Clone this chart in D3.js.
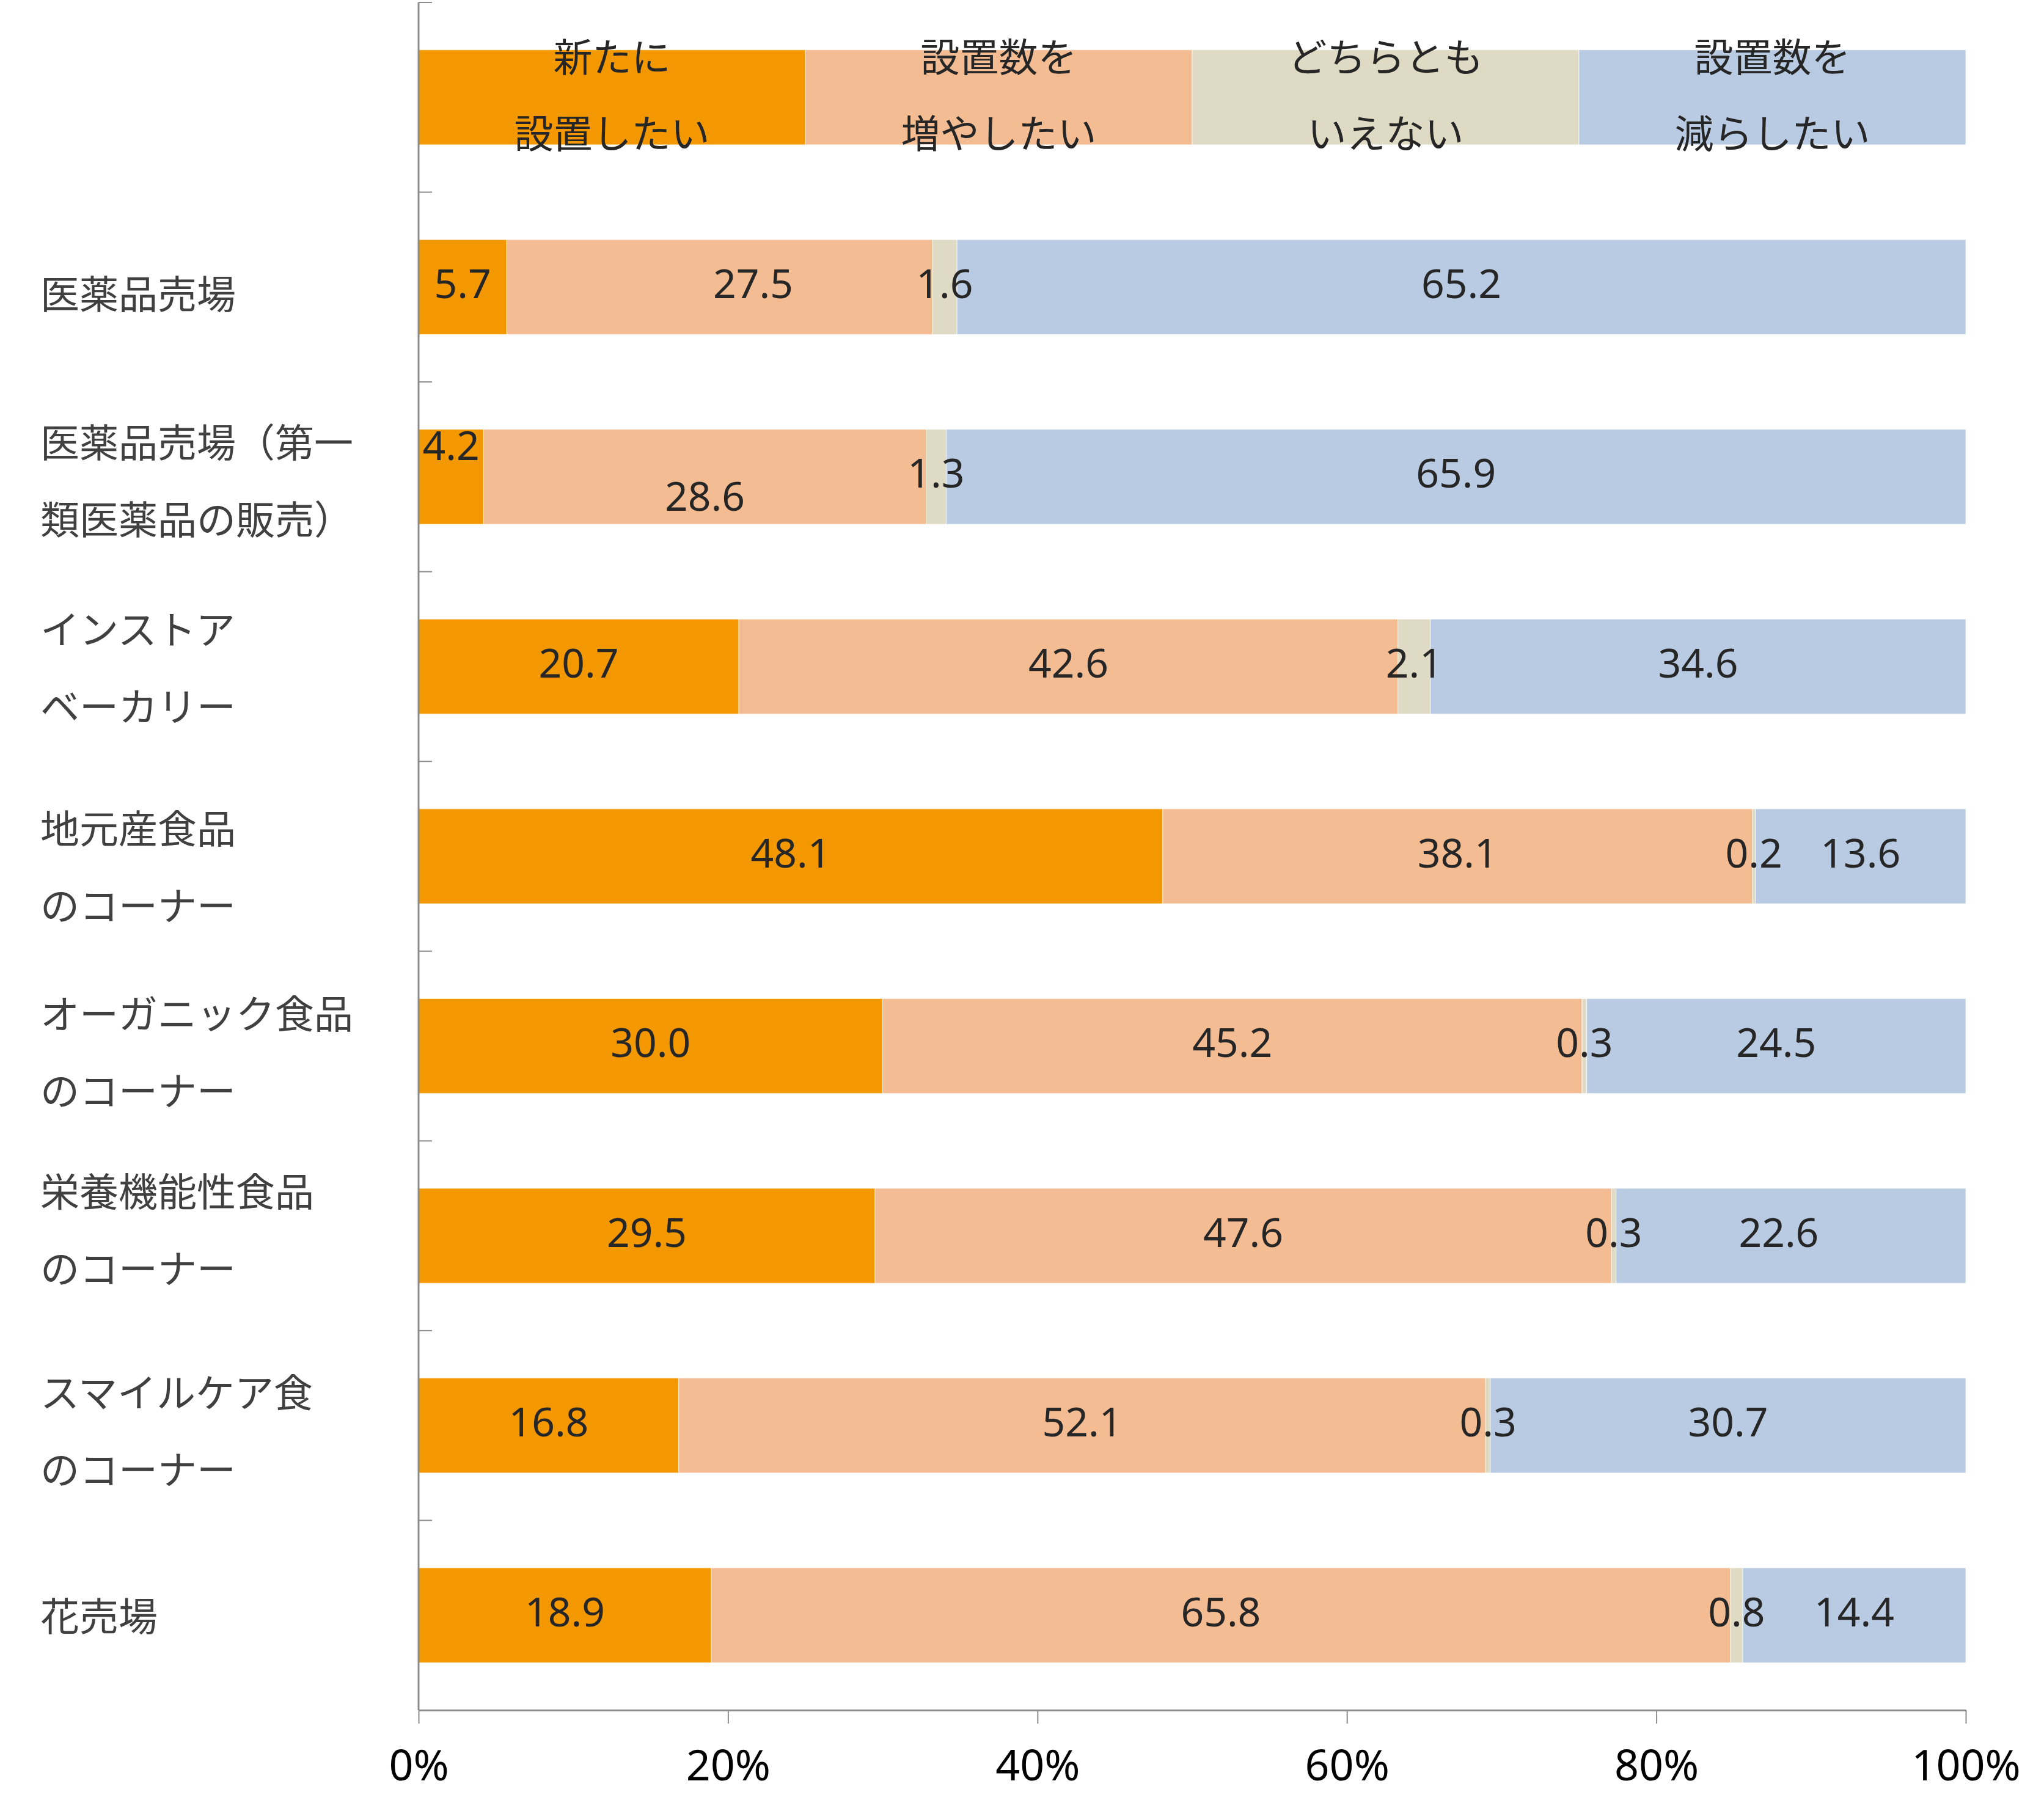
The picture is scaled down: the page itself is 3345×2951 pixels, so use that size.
<!DOCTYPE html>
<html>
<head>
<meta charset="utf-8">
<script src="https://cdn.jsdelivr.net/npm/d3@7"></script>
<style>
  html, body { margin: 0; padding: 0; background: #ffffff; }
  svg { display: block; }
</style>
</head>
<body>
<svg id="chart" width="3345" height="2951"></svg>
<script>
// ---------- data ----------
const categories = [
  "医薬品売場",
  "医薬品売場（第一類医薬品の販売）",
  "インストアベーカリー",
  "地元産食品のコーナー",
  "オーガニック食品のコーナー",
  "栄養機能性食品のコーナー",
  "スマイルケア食のコーナー",
  "花売場"
];
const categoryLines = [
  ["医薬品売場"],
  ["医薬品売場（第一", "類医薬品の販売）"],
  ["インストア", "ベーカリー"],
  ["地元産食品", "のコーナー"],
  ["オーガニック食品", "のコーナー"],
  ["栄養機能性食品", "のコーナー"],
  ["スマイルケア食", "のコーナー"],
  ["花売場"]
];
const seriesKeys = ["新たに設置したい", "設置数を増やしたい", "どちらともいえない", "設置数を減らしたい"];
const seriesLines = [
  ["新たに", "設置したい"],
  ["設置数を", "増やしたい"],
  ["どちらとも", "いえない"],
  ["設置数を", "減らしたい"]
];
const newlyInstall  = [5.7, 4.2, 20.7, 48.1, 30.0, 29.5, 16.8, 18.9];
const increase      = [27.5, 28.6, 42.6, 38.1, 45.2, 47.6, 52.1, 65.8];
const neutral       = [1.6, 1.3, 2.1, 0.2, 0.3, 0.3, 0.3, 0.8];
const decrease      = [65.2, 65.9, 34.6, 13.6, 24.5, 22.6, 30.7, 14.4];
const legendShare   = [25, 25, 25, 25];
const xTickValues   = [0, 20, 40, 60, 80, 100];

// ---------- styles / layout ----------
const colors = ["#F39800", "#F4BC93", "#DFDAC4", "#B9CBE2"];
const CJK = "'Noto Sans CJK JP', 'Noto Sans', sans-serif";
const NUM = "'Noto Sans', 'DejaVu Sans', sans-serif";
// small per-row vertical nudges of the category labels (layout only)
const labelNudge = [7, 3, -2, 13, 6, -14, 5, -3];
// per-label nudges of value labels (layout only) : [dx, dy]
const valueNudge = { "1-0": [0, -45], "1-1": [0, 38], "0-1": [55, 0], "5-3": [-20, 0] };

const svg = d3.select("#chart");
const X0 = 685, X1 = 3217, Y0 = 4, Y1 = 2799;

const rowsKeys = ["__legend__", ...categories];
const y = d3.scaleBand().domain(rowsKeys).range([Y0, Y1])
  .paddingInner(0.5).paddingOuter(0.25);
const x = d3.scaleLinear().domain([0, 1]).range([X0, X1]);

// build table
const table = categories.map((c, i) => ({
  cat: c, idx: i,
  [seriesKeys[0]]: newlyInstall[i],
  [seriesKeys[1]]: increase[i],
  [seriesKeys[2]]: neutral[i],
  [seriesKeys[3]]: decrease[i]
}));
const legendRow = { cat: "__legend__", idx: -1 };
seriesKeys.forEach((k, j) => legendRow[k] = legendShare[j]);

const stack = d3.stack().keys(seriesKeys).offset(d3.stackOffsetExpand);
const stacked = stack([legendRow, ...table]);

// bars
const gBars = svg.append("g");
stacked.forEach((layer, j) => {
  gBars.selectAll(null).data(layer).enter().append("rect")
    .attr("x", d => x(d[0]))
    .attr("y", d => y(d.data.cat))
    .attr("width", d => x(d[1]) - x(d[0]))
    .attr("height", y.bandwidth())
    .attr("fill", colors[j])
    .attr("stroke", "#ffffff")
    .attr("stroke-width", 1)
    .attr("stroke-opacity", 0.7);
});

// value labels
const gVals = svg.append("g");
stacked.forEach((layer, j) => {
  layer.forEach(d => {
    if (d.data.cat === "__legend__") return;
    const v = d.data[seriesKeys[j]];
    const nd = valueNudge[d.data.idx + "-" + j] || [0, 0];
    const cx = (x(d[0]) + x(d[1])) / 2 + nd[0];
    const cy = y(d.data.cat) + y.bandwidth() / 2 + nd[1];
    gVals.append("text")
      .attr("x", cx).attr("y", cy - 8)
      .attr("text-anchor", "middle")
      .attr("dominant-baseline", "central")
      .attr("font-family", NUM)
      .attr("font-size", 66)
      .attr("fill", "#262626")
      .text(d3.format(".1f")(v));
  });
});

// legend texts inside the top bar
const legendLayer = stacked.map(l => l[0]);
const gLeg = svg.append("g");
legendLayer.forEach((d, j) => {
  const cx = (x(d[0]) + x(d[1])) / 2;
  const cy = y("__legend__") + y.bandwidth() / 2;
  const t = gLeg.append("text")
    .attr("text-anchor", "middle")
    .attr("font-family", CJK)
    .attr("font-size", 64)
    .attr("fill", "#262626");
  t.append("tspan").attr("x", cx).attr("y", cy - 70).attr("dominant-baseline", "central").text(seriesLines[j][0]);
  t.append("tspan").attr("x", cx).attr("y", cy + 55).attr("dominant-baseline", "central").text(seriesLines[j][1]);
});

// category labels
const gCat = svg.append("g");
categories.forEach((c, i) => {
  const lines = categoryLines[i];
  const cy = y(c) + y.bandwidth() / 2 + labelNudge[i];
  const lh = 126;
  lines.forEach((ln, k) => {
    const off = (k - (lines.length - 1) / 2) * lh;
    gCat.append("text")
      .attr("x", 66).attr("y", cy + off)
      .attr("dominant-baseline", "central")
      .attr("font-family", CJK)
      .attr("font-size", 64)
      .attr("fill", "#404040")
      .text(ln);
  });
});

// left axis line and ticks (category boundaries)
const gAxisL = svg.append("g");
gAxisL.append("line")
  .attr("x1", X0).attr("x2", X0).attr("y1", Y0).attr("y2", Y1)
  .attr("stroke", "#8c8c8c").attr("stroke-width", 3);
const step = y.step();
d3.range(rowsKeys.length).forEach(k => {
  const yy = Y0 + k * step;
  gAxisL.append("line")
    .attr("x1", X0).attr("x2", X0 + 22).attr("y1", yy).attr("y2", yy)
    .attr("stroke", "#8c8c8c").attr("stroke-width", 2);
});

// bottom axis
const xAxis = d3.axisBottom(d3.scaleLinear().domain([0, 100]).range([X0, X1]))
  .tickValues(xTickValues)
  .tickSize(22)
  .tickSizeOuter(0)
  .tickFormat(d => d + "%");
const gX = svg.append("g").attr("transform", `translate(0,${Y1})`).call(xAxis);
gX.select(".domain").attr("stroke", "#8c8c8c").attr("stroke-width", 3);
gX.selectAll(".tick line").attr("stroke", "#8c8c8c").attr("stroke-width", 2);
gX.selectAll(".tick text")
  .attr("y", 88).attr("dy", null)
  .attr("dominant-baseline", "central")
  .attr("font-family", NUM)
  .attr("font-size", 70)
  .attr("fill", "#000000");
</script>
</body>
</html>
